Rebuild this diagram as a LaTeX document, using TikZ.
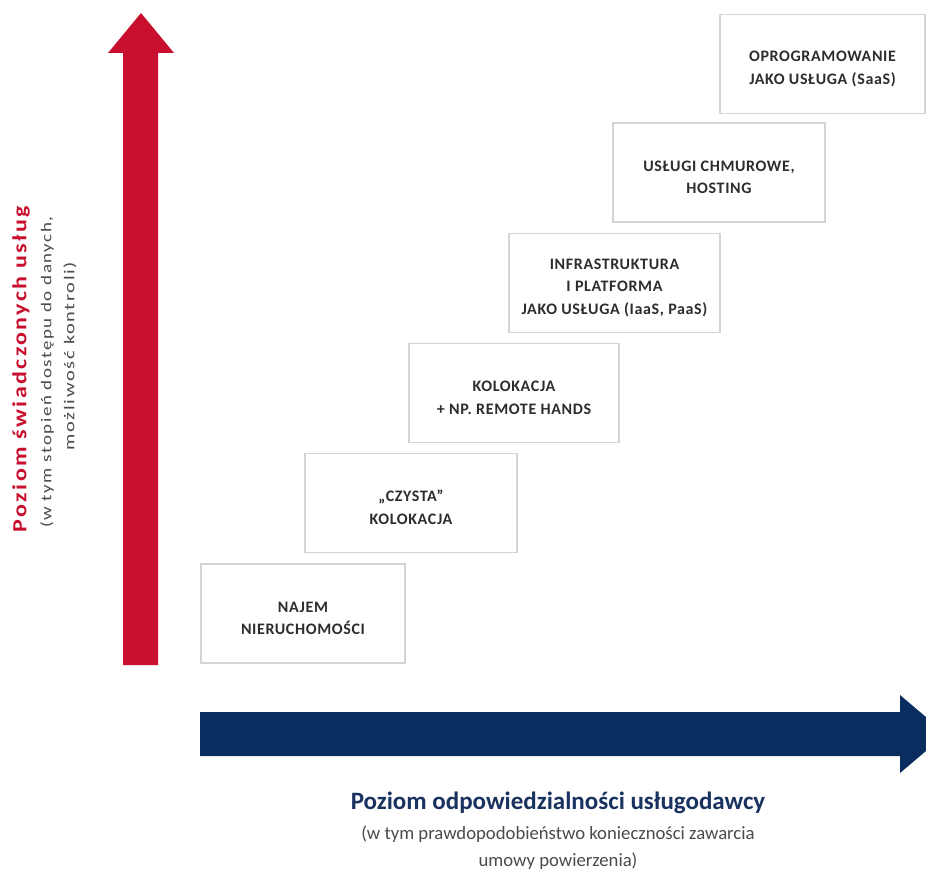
\documentclass[tikz,border=0pt]{standalone}
\usepackage{fontspec}
\setmainfont{Carlito}
\definecolor{redarrow}{RGB}{200,16,46}
\definecolor{bluearrow}{RGB}{10,45,95}
\definecolor{titleblue}{RGB}{25,50,95}
\definecolor{boxline}{RGB}{212,212,212}
\definecolor{boxtext}{RGB}{45,45,45}
\definecolor{subgray}{RGB}{75,75,75}
\newcommand\bxstrut{\rule{0pt}{20pt}}
\tikzset{
  stagebox/.style={draw=boxline, line width=1.4pt, fill=white, inner sep=0pt,
    minimum height=99pt, align=center, text=boxtext,
    font=\fontsize{16}{22.5}\selectfont\bfseries\addfontfeatures{LetterSpace=4}},
  vlabel/.style={rotate=90, inner sep=0pt},
}
\begin{document}
\begin{tikzpicture}[x=1pt,y=-1pt]
\useasboundingbox (0,0) rectangle (926,877);
\clip (0,0) rectangle (926,877);
\fill[white] (0,0) rectangle (926,877);
% red vertical arrow
\fill[redarrow] (123,665) -- (123,53) -- (108,53) -- (141,13) -- (174,53) -- (158,53) -- (158,665) -- cycle;
% blue horizontal arrow
\fill[bluearrow] (200,712) -- (900,712) -- (900,695) -- (946,734) -- (900,773) -- (900,756) -- (200,756) -- cycle;
% boxes
\node[stagebox, minimum width=204pt] (b1) at (303,613.5) {\bxstrut NAJEM\\NIERUCHOMOŚCI};
\node[stagebox, minimum width=212pt] (b2) at (411,503) {\bxstrut „CZYSTA”\\KOLOKACJA};
\node[stagebox, minimum width=210pt] (b3) at (514,393) {\bxstrut KOLOKACJA\\+ NP. REMOTE HANDS};
\node[stagebox, minimum width=211pt] (b4) at (614.5,283) {\bxstrut INFRASTRUKTURA\\I PLATFORMA\\JAKO USŁUGA (IaaS, PaaS)};
\node[stagebox, minimum width=212pt] (b5) at (719,172.5) {\bxstrut USŁUGI CHMUROWE,\\HOSTING};
\node[stagebox, minimum width=205pt] (b6) at (822.5,64) {\bxstrut OPROGRAMOWANIE\\JAKO USŁUGA (SaaS)};
% vertical axis labels
\node[vlabel, text=redarrow, font=\fontsize{20}{24}\selectfont\bfseries\addfontfeatures{LetterSpace=10}] (ytitle) at (21,369) {\scalebox{1.2}[1]{Poziom świadczonych usług}};
\node[vlabel, text=subgray, font=\fontsize{15}{23}\selectfont\addfontfeatures{LetterSpace=8}] (ysub1) at (47,372) {\scalebox{1.265}[1]{(w tym stopień dostępu do danych,}};
\node[vlabel, text=subgray, font=\fontsize{15}{23}\selectfont\addfontfeatures{LetterSpace=8}] (ysub2) at (70,356) {\scalebox{1.36}[1]{możliwość kontroli)}};
% horizontal axis labels
\node[text=titleblue, font=\fontsize{25}{28}\selectfont\bfseries, inner sep=0pt] (xtitle) at (558,803) {Poziom odpowiedzialności usługodawcy};
\node[text=subgray, font=\fontsize{18.7}{27}\selectfont, inner sep=0pt, align=center] (xsub) at (558,848) {(w tym prawdopodobieństwo konieczności zawarcia\\umowy powierzenia)};
\end{tikzpicture}
\end{document}
